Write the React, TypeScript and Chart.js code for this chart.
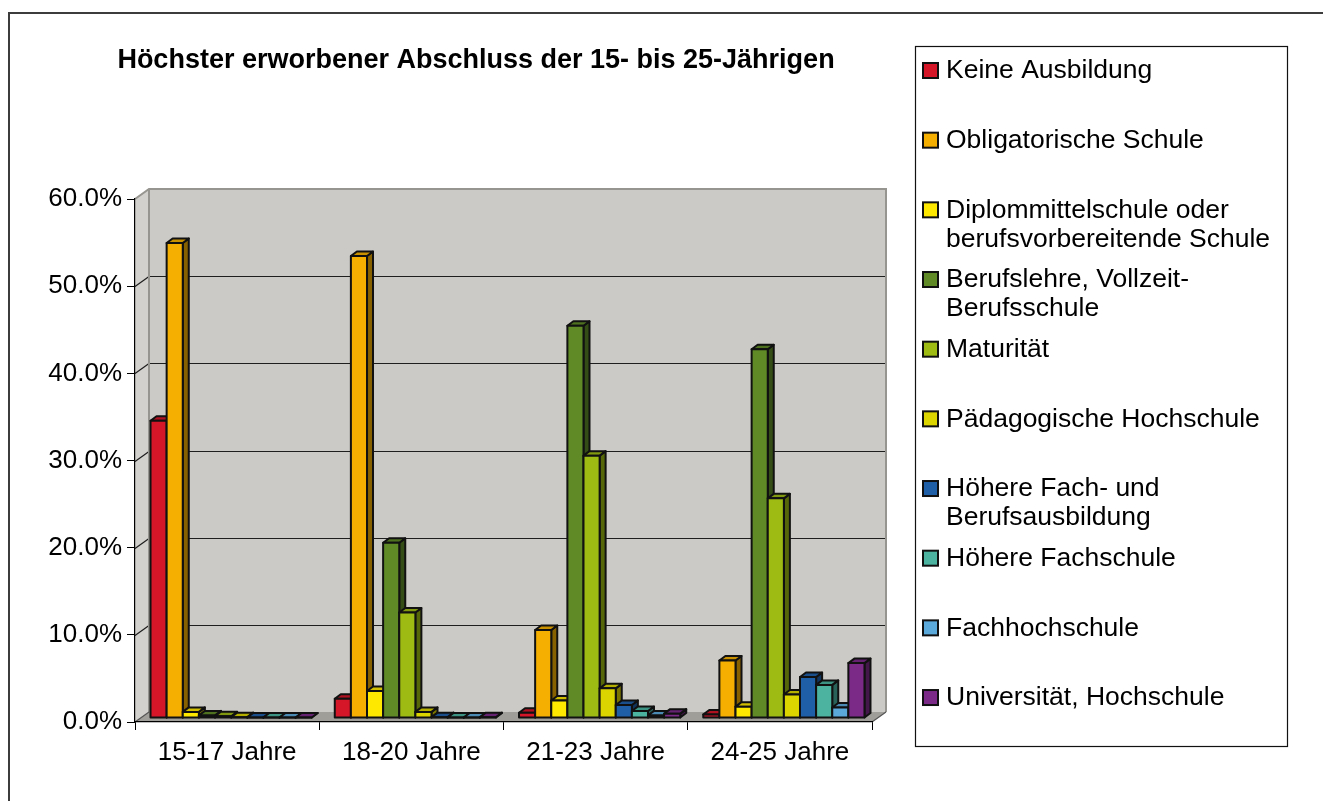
import React, { useEffect, useRef } from 'react';
import { Chart, registerables } from 'chart.js';

Chart.register(...registerables);

const categories = ['15-17 Jahre', '18-20 Jahre', '21-23 Jahre', '24-25 Jahre'];

const seriesNames = [
  'Keine Ausbildung',
  'Obligatorische Schule',
  'Diplommittelschule oder berufsvorbereitende Schule',
  'Berufslehre, Vollzeit-Berufsschule',
  'Maturität',
  'Pädagogische Hochschule',
  'Höhere Fach- und Berufsausbildung',
  'Höhere Fachschule',
  'Fachhochschule',
  'Universität, Hochschule',
];

const legendLines = [
  ['Keine Ausbildung'],
  ['Obligatorische Schule'],
  ['Diplommittelschule oder', 'berufsvorbereitende Schule'],
  ['Berufslehre, Vollzeit-', 'Berufsschule'],
  ['Maturität'],
  ['Pädagogische Hochschule'],
  ['Höhere Fach- und', 'Berufsausbildung'],
  ['Höhere Fachschule'],
  ['Fachhochschule'],
  ['Universität, Hochschule'],
];

const keineAusbildung = [34.1, 2.2, 0.6, 0.4];
const obligatorischeSchule = [54.5, 53.0, 10.1, 6.6];
const diplommittelschule = [0.7, 3.1, 2.0, 1.3];
const berufslehre = [0.3, 20.1, 45.0, 42.3];
const maturitaet = [0.2, 12.1, 30.1, 25.2];
const paedagogischeHochschule = [0.1, 0.7, 3.4, 2.7];
const hoehereBerufsbildung = [0.05, 0.1, 1.5, 4.7];
const hoehereFachschule = [0.05, 0.05, 0.8, 3.8];
const fachhochschule = [0.05, 0.05, 0.3, 1.2];
const universitaet = [0.05, 0.1, 0.5, 6.3];

const seriesValues = [
  keineAusbildung,
  obligatorischeSchule,
  diplommittelschule,
  berufslehre,
  maturitaet,
  paedagogischeHochschule,
  hoehereBerufsbildung,
  hoehereFachschule,
  fachhochschule,
  universitaet,
];

const seriesColors = [
  '#D51528',
  '#F5AF00',
  '#FFE800',
  '#5F8A26',
  '#9DBB12',
  '#DDD500',
  '#1F5FA8',
  '#4BB3A0',
  '#5BA8DA',
  '#7B2A88',
];

const chartTitle = 'Höchster erworbener Abschluss der 15- bis 25-Jährigen';
const yMin = 0;
const yMax = 60;
const yStep = 10;

const FONT = "'Liberation Sans', Arial, Helvetica, sans-serif";
const DX = 14;
const DY = 10;
const BDX = 6;
const BDY = 4.5;

function shade(hex: string, f: number): string {
  const n = parseInt(hex.slice(1), 16);
  const r = Math.round(((n >> 16) & 255) * f);
  const g = Math.round(((n >> 8) & 255) * f);
  const b = Math.round((n & 255) * f);
  return `rgb(${r},${g},${b})`;
}

const threeDPlugin = {
  id: 'threeD',
  beforeDraw(chart: any) {
    const { ctx, chartArea } = chart;
    const { left, right, top, bottom } = chartArea;
    const ys = chart.scales.y;
    ctx.save();
    // outer frame
    ctx.strokeStyle = '#3c3c3c';
    ctx.lineWidth = 2;
    ctx.strokeRect(9, 13, 1400, 900);

    // side wall
    ctx.fillStyle = '#d3d1cd';
    ctx.beginPath();
    ctx.moveTo(left, top);
    ctx.lineTo(left + DX, top - DY);
    ctx.lineTo(left + DX, bottom - DY);
    ctx.lineTo(left, bottom);
    ctx.closePath();
    ctx.fill();

    // back wall
    ctx.fillStyle = '#cccac6';
    ctx.fillRect(left + DX, top - DY, right - left, bottom - top);

    // floor
    ctx.fillStyle = '#a09e99';
    ctx.beginPath();
    ctx.moveTo(left, bottom);
    ctx.lineTo(right, bottom);
    ctx.lineTo(right + DX, bottom - DY);
    ctx.lineTo(left + DX, bottom - DY);
    ctx.closePath();
    ctx.fill();

    // gridlines
    ctx.strokeStyle = '#1e1e1e';
    ctx.lineWidth = 1.2;
    ys.ticks.forEach((t: any) => {
      if (t.value <= yMin || t.value >= yMax) return;
      const py = Math.round(ys.getPixelForValue(t.value)) + 0.5;
      ctx.beginPath();
      ctx.moveTo(left + DX, py - DY);
      ctx.lineTo(right + DX, py - DY);
      ctx.stroke();
      ctx.beginPath();
      ctx.moveTo(left, py);
      ctx.lineTo(left + DX, py - DY);
      ctx.stroke();
    });

    // wall edges
    ctx.strokeStyle = '#97958f';
    ctx.lineWidth = 2;
    ctx.beginPath();
    ctx.moveTo(left, top);
    ctx.lineTo(left + DX, top - DY);
    ctx.lineTo(right + DX, top - DY);
    ctx.lineTo(right + DX, bottom - DY);
    ctx.moveTo(left + DX, top - DY);
    ctx.lineTo(left + DX, bottom - DY);
    ctx.stroke();

    ctx.strokeStyle = '#555';
    ctx.lineWidth = 1.2;
    ctx.beginPath();
    ctx.moveTo(right, bottom);
    ctx.lineTo(right + DX, bottom - DY);
    ctx.moveTo(left, bottom);
    ctx.lineTo(left + DX, bottom - DY);
    ctx.stroke();
    ctx.restore();
  },
  beforeDatasetDraw() {
    return false;
  },
  afterDatasetsDraw(chart: any) {
    const { ctx } = chart;
    ctx.save();
    ctx.translate(4, -4);
    ctx.lineJoin = 'round';
    ctx.strokeStyle = '#111';
    ctx.lineWidth = 2;
    chart.data.datasets.forEach((ds: any, di: number) => {
      const meta = chart.getDatasetMeta(di);
      const color = ds.backgroundColor as string;
      meta.data.forEach((el: any) => {
        const { x, y, base, width } = el.getProps(['x', 'y', 'base', 'width'], true);
        const l = x - width / 2;
        const r = x + width / 2;
        // side face
        ctx.fillStyle = shade(color, 0.55);
        ctx.beginPath();
        ctx.moveTo(r, y);
        ctx.lineTo(r + BDX, y - BDY);
        ctx.lineTo(r + BDX, base - BDY);
        ctx.lineTo(r, base);
        ctx.closePath();
        ctx.fill();
        ctx.stroke();
        // top face
        ctx.fillStyle = shade(color, 0.82);
        ctx.beginPath();
        ctx.moveTo(l, y);
        ctx.lineTo(l + BDX, y - BDY);
        ctx.lineTo(r + BDX, y - BDY);
        ctx.lineTo(r, y);
        ctx.closePath();
        ctx.fill();
        ctx.stroke();
        // front face
        ctx.fillStyle = color;
        ctx.beginPath();
        ctx.rect(l, y, r - l, base - y);
        ctx.fill();
        ctx.stroke();
      });
    });
    ctx.restore();
  },
  afterDraw(chart: any) {
    const { ctx } = chart;
    ctx.save();
    // title
    ctx.fillStyle = '#000';
    ctx.font = `bold 27px ${FONT}`;
    ctx.textAlign = 'center';
    ctx.textBaseline = 'middle';
    ctx.fillText(chartTitle, 476, 61);

    // legend box
    const lx = 915.5;
    const ly = 46.5;
    const lw = 372;
    const lh = 700;
    ctx.strokeStyle = '#111';
    ctx.lineWidth = 1.2;
    ctx.strokeRect(lx, ly, lw, lh);

    const first = 70;
    const spacing = 69.67;
    ctx.font = `26.5px ${FONT}`;
    ctx.textAlign = 'left';
    chart.data.datasets.forEach((ds: any, i: number) => {
      const cy = first + i * spacing;
      ctx.fillStyle = ds.backgroundColor;
      ctx.fillRect(923, cy - 7, 15, 15);
      ctx.strokeStyle = '#111';
      ctx.lineWidth = 2;
      ctx.strokeRect(923, cy - 7, 15, 15);
      ctx.fillStyle = '#000';
      legendLines[i].forEach((line, k) => {
        ctx.fillText(line, 946, cy + 1 + k * 29);
      });
    });
    ctx.restore();
  },
};

export default function App() {
  const canvasRef = useRef<HTMLCanvasElement | null>(null);

  useEffect(() => {
    const canvas = canvasRef.current;
    if (!canvas) return;
    const chart = new Chart(canvas, {
      type: 'bar',
      data: {
        labels: categories,
        datasets: seriesNames.map((name, i) => ({
          label: name,
          data: seriesValues[i],
          backgroundColor: seriesColors[i],
          borderColor: '#111',
          borderWidth: 1,
          categoryPercentage: 0.875,
          barPercentage: 1,
        })),
      },
      options: {
        responsive: false,
        animation: false,
        devicePixelRatio: 1,
        layout: { padding: { left: 0, top: 199, right: 451, bottom: 0 } },
        plugins: {
          legend: { display: false },
          title: { display: false },
          tooltip: { enabled: false },
        },
        scales: {
          x: {
            grid: {
              display: true,
              drawOnChartArea: false,
              drawTicks: true,
              tickLength: 8,
              color: '#000',
              offset: true,
            },
            border: { display: true, color: '#000', width: 1.2 },
            ticks: {
              color: '#000',
              font: { family: FONT, size: 26 },
              padding: 7,
              maxRotation: 0,
              autoSkip: false,
            },
            afterFit: (s: any) => {
              s.height = 79;
            },
          },
          y: {
            min: yMin,
            max: yMax,
            grid: {
              drawOnChartArea: false,
              drawTicks: true,
              tickLength: 8,
              color: '#000',
            },
            border: { display: true, color: '#000', width: 1.2 },
            ticks: {
              stepSize: yStep,
              color: '#000',
              font: { family: FONT, size: 26 },
              padding: 5,
              callback: (v: any) => `${Number(v).toFixed(1)}%`,
            },
            afterFit: (s: any) => {
              s.width = 135;
            },
          },
        },
      },
      plugins: [threeDPlugin],
    });
    return () => chart.destroy();
  }, []);

  return (
    <div style={{ position: 'fixed', left: 0, top: 0, width: 1323, height: 801, background: '#fff' }}>
      <canvas ref={canvasRef} width={1323} height={801} style={{ display: 'block', width: 1323, height: 801 }} />
    </div>
  );
}
